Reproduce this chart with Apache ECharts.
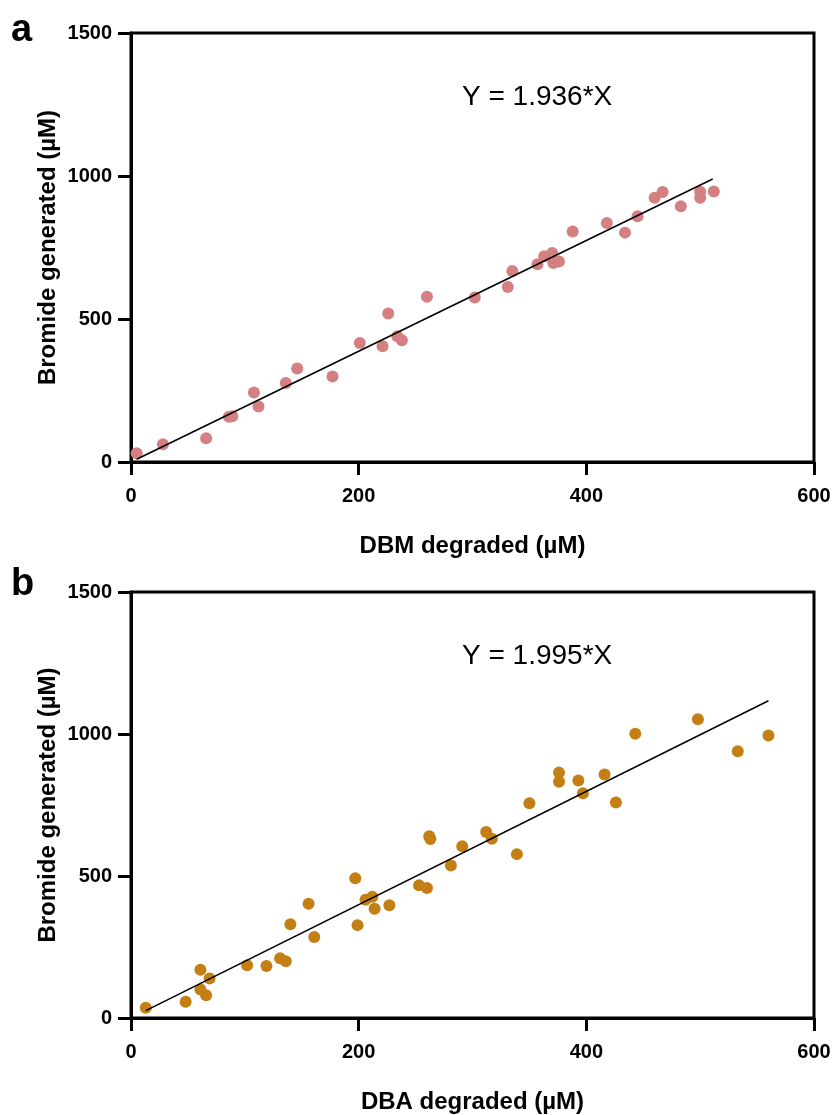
<!DOCTYPE html>
<html>
<head>
<meta charset="utf-8">
<script src="https://cdn.jsdelivr.net/npm/echarts@6/dist/echarts.min.js"></script>
<style>
html,body{margin:0;padding:0;background:#fff;}
#c{width:836px;height:1115px;}
</style>
</head>
<body>
<div id="c"></div>
<script>
// ---- Data ----
const xTicks = [0, 200, 400, 600];
const yTicks = [0, 500, 1000, 1500];

const dbmX = [5,28,66,86,89,108,112,136,146,177,201,221,226,234,238,260,302,331,335,357,363,370,371,376,388,418,434,445,460,467,483,500,500,512];
const dbmY = [31,62,83,158,160,243,194,276,327,299,416,405,519,440,426,578,575,612,668,691,719,731,696,701,806,836,802,859,924,944,894,945,924,946];
const dbmSlope = 1.936;
const dbmFitRange = [5, 511];

const dbaX = [13,48,61,69,61,66,102,119,131,136,140,156,161,197,199,206,212,214,227,253,260,262,263,281,291,312,317,339,350,376,376,393,397,416,426,443,498,533,560];
const dbaY = [36,57,170,139,100,80,186,183,210,200,330,402,285,492,327,416,427,385,397,467,458,640,630,537,605,655,631,577,756,864,832,836,791,857,759,1001,1052,939,995];
const dbaSlope = 1.995;
const dbaFitRange = [13, 560];

const panelLabels = ['a', 'b'];
const xNames = ['DBM degraded (\u00b5M)', 'DBA degraded (\u00b5M)'];
const yName = 'Bromide generated (\u00b5M)';
const eqTexts = ['Y = 1.936*X', 'Y = 1.995*X'];

// ---- Build ----
const FONT = '"Liberation Sans", Arial, Helvetica, sans-serif';
const zip = (xs, ys) => xs.map((x, i) => [x, ys[i]]);
const fitLine = (r, s) => r.map(x => [x, s * x]);

const grids = [
  {left: 131, top: 33, width: 683, height: 429},
  {left: 131, top: 592, width: 683, height: 429}
];

function xAxisFor(i){
  return {
    gridIndex: i, type: 'value', min: xTicks[0], max: xTicks[xTicks.length-1], interval: 200,
    name: xNames[i], nameLocation: 'middle', nameGap: 72, nameMoveOverlap: false,
    nameTextStyle: {fontFamily: FONT, fontSize: 24, fontWeight: 'bold', color: '#000'},
    axisLine: {show: true, onZero: false, lineStyle: {color: '#000', width: 3}},
    axisTick: {show: true, length: 13, lineStyle: {color: '#000', width: 3}},
    axisLabel: {fontFamily: FONT, fontSize: 20, fontWeight: 'bold', color: '#000', margin: 24,
                formatter: v => String(v)},
    splitLine: {show: false}
  };
}
function yAxisFor(i){
  return {
    gridIndex: i, type: 'value', min: yTicks[0], max: yTicks[yTicks.length-1], interval: 500,
    name: yName, nameLocation: 'middle', nameGap: 71, nameMoveOverlap: false,
    nameTextStyle: {fontFamily: FONT, fontSize: 24, fontWeight: 'bold', color: '#000'},
    axisLine: {show: true, onZero: false, lineStyle: {color: '#000', width: 3}},
    axisTick: {show: true, length: 13, lineStyle: {color: '#000', width: 3}},
    axisLabel: {fontFamily: FONT, fontSize: 20, fontWeight: 'bold', color: '#000', margin: 19,
                formatter: v => String(v)},
    splitLine: {show: false}
  };
}

const option = {
  animation: false,
  backgroundColor: '#fff',
  grid: grids.map(g => Object.assign({show: true, borderColor: '#000', borderWidth: 3, backgroundColor: 'transparent'}, g)),
  xAxis: [xAxisFor(0), xAxisFor(1)],
  yAxis: [yAxisFor(0), yAxisFor(1)],
  series: [
    {type: 'line', xAxisIndex: 0, yAxisIndex: 0, data: fitLine(dbmFitRange, dbmSlope), symbol: 'none',
     lineStyle: {color: '#000', width: 1.6}, z: 3},
    {type: 'scatter', xAxisIndex: 0, yAxisIndex: 0, data: zip(dbmX, dbmY), symbolSize: 12,
     itemStyle: {color: '#d48082', opacity: 1}, z: 2},
    {type: 'line', xAxisIndex: 1, yAxisIndex: 1, data: fitLine(dbaFitRange, dbaSlope), symbol: 'none',
     lineStyle: {color: '#000', width: 1.6}, z: 3},
    {type: 'scatter', xAxisIndex: 1, yAxisIndex: 1, data: zip(dbaX, dbaY), symbolSize: 12,
     itemStyle: {color: '#c47f14', opacity: 1}, z: 2}
  ],
  graphic: [
    {type: 'text', left: 11, top: 12, style: {text: panelLabels[0], font: 'bold 38px ' + FONT, fill: '#000'}},
    {type: 'text', left: 11, top: 566, style: {text: panelLabels[1], font: 'bold 38px ' + FONT, fill: '#000'}},
    {type: 'text', left: 462, top: 83, style: {text: eqTexts[0], font: '28px ' + FONT, fill: '#000'}},
    {type: 'text', left: 462, top: 642, style: {text: eqTexts[1], font: '28px ' + FONT, fill: '#000'}}
  ]
};

const chart = echarts.init(document.getElementById('c'), null, {renderer: 'canvas'});
chart.setOption(option);
</script>
</body>
</html>
